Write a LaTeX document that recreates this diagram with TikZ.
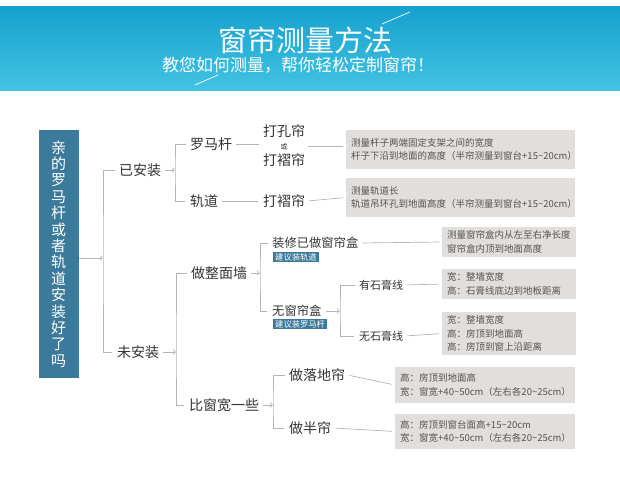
\documentclass[tikz,border=0pt]{standalone}
\usepackage{fontspec}
\setmainfont{Noto Sans CJK SC}
\usetikzlibrary{arrows.meta,positioning,calc}
\definecolor{qblue}{HTML}{3B7A9B}
\definecolor{bannertop}{HTML}{16A1CE}
\definecolor{bannerbot}{HTML}{42C3E3}
\definecolor{notegray}{HTML}{E2DEDB}
\definecolor{linegray}{HTML}{B4B4B4}
\definecolor{txt}{HTML}{333333}
\definecolor{notetxt}{HTML}{555555}
\newcommand{\tl}{\textasciitilde}

\begin{document}
\begin{tikzpicture}[x=1pt,y=-1pt,
    every node/.style={font=\fontsize{14}{16}\selectfont, text=txt, inner sep=2pt},
    lbl/.style={anchor=west},
    small/.style={anchor=west, font=\fontsize{11}{13}\selectfont},
    qbox/.style={fill=qblue, text=white, minimum width=40, minimum height=248, align=center, font=\fontsize{15}{16.4}\selectfont},
    note/.style={fill=notegray, anchor=west, align=left, text=notetxt, text width=#1, inner xsep=5pt, inner ysep=0pt, font=\fontsize{9.5}{13.5}\selectfont},
    tag/.style={fill=qblue, text=white, anchor=north west, inner xsep=2pt, inner ysep=1pt, font=\fontsize{8.3}{9}\selectfont},
    ln/.style={draw=linegray, line width=0.7pt, shorten <=2pt, shorten >=3pt},
    arr/.style={draw=linegray, line width=0.7pt, shorten <=2pt, -{Straight Barb[length=2.5pt,width=4.5pt]}}
  ]
  \useasboundingbox (0,0) rectangle (620,486);

  % banner
  \shade[top color=bannertop, bottom color=bannerbot] (0,7) rectangle (620,91);
  \draw[white, line width=0.7pt] (382,24) -- (410,12);
  \draw[white, line width=0.7pt] (195,85) -- (218,75);
  \node[text=white, font=\fontsize{29}{30}\selectfont] (title) at (305,40) {窗帘测量方法};
  \node[text=white, font=\fontsize{17}{18}\selectfont] (subtitle) at (298,65) {教您如何测量，帮你轻松定制窗帘！};

  % question
  \node[qbox] (q) at (58.5,254) {亲\\的\\罗\\马\\杆\\或\\者\\轨\\道\\安\\装\\好\\了\\吗};

  % bracket points
  \coordinate (b1) at (103,258);
  \coordinate (b2) at (175,170);
  \coordinate (b3) at (176,352);
  \coordinate (b4) at (260,273);
  \coordinate (b5) at (340,311);
  \coordinate (b6) at (273,405);

  % first level
  \node[lbl] (yaz) at (117,170) {已安装};
  \node[lbl] (waz) at (115,352) {未安装};
  \draw[arr, shorten <=0pt] (q.east |- b1) -- (b1);
  \draw[ln] (yaz.west) -| (b1) |- (waz.west);

  % installed
  \node[lbl] (lmg) at (188,144) {罗马杆};
  \node[lbl] (gd) at (188,201) {轨道};
  \draw[arr] (yaz.east) -- (b2);
  \draw[ln] (lmg.west) -| (b2) |- (gd.west);
  \node[align=center, inner sep=1pt] (dkl) at (284,146) {打孔帘\\[-3pt]{\fontsize{7}{8}\selectfont 或}\\[0pt]打褶帘};
  \node (dzl) at (284,201) {打褶帘};
  \node[note=219, minimum height=39] (n1) at (346,149.5) {测量杆子两端固定支架之间的宽度\\杆子下沿到地面的高度（半帘测量到窗台+15\tl20cm）};
  \node[note=219, minimum height=39] (n2) at (346,197.5) {测量轨道长\\轨道吊环孔到地面高度（半帘测量到窗台+15\tl20cm）};
  \draw[ln] (lmg.east) -- (lmg.east -| dkl.west);
  \draw[ln] (dkl.east) -- (dkl.east -| n1.west);
  \draw[ln] (gd.east) -- (dzl.west);
  \draw[ln] (dzl.east) -- (n2.west);

  % not installed
  \node[lbl] (zzm) at (189,273) {做整面墙};
  \node[lbl] (bck) at (187,405) {比窗宽一些};
  \draw[arr] (waz.east) -- (b3);
  \draw[ln] (zzm.west) -| (b3) |- (bck.west);

  % whole wall
  \node[lbl, font=\fontsize{12.3}{14}\selectfont] (zxy) at (270,243) {装修已做窗帘盒};
  \node[tag] (tag1) at (273,252) {建议装轨道};
  \node[lbl, font=\fontsize{12.3}{14}\selectfont] (wcl) at (270,311) {无窗帘盒};
  \node[tag] (tag2) at (273,319) {建议装罗马杆};
  \draw[arr] (zzm.east) -- (b4);
  \draw[ln] (zxy.west) -| (b4) |- (wcl.west);
  \node[note=124, minimum height=30] (n3) at (442,242) {测量窗帘盒内从左至右净长度\\窗帘盒内顶到地面高度};
  \draw[ln] (zxy.east) -- (n3.west);

  \node[small] (ysg) at (357,285) {有石膏线};
  \node[small] (wsg) at (357,336) {无石膏线};
  \draw[arr] (wcl.east) -- (b5);
  \draw[ln] (ysg.west) -| (b5) |- (wsg.west);
  \node[note=124, minimum height=30] (n4) at (442,284) {宽：整墙宽度\\高：石膏线底边到地板距离};
  \node[note=124, minimum height=43] (n5) at (442,333.5) {宽：整墙宽度\\高：房顶到地面高\\高：房顶到窗上沿距离};
  \draw[ln] (ysg.east) -- (n4.west);
  \draw[ln] (wsg.east) -- (n5.west);

  % wider than window
  \node[lbl] (ldl) at (287,375) {做落地帘};
  \node[lbl] (bl) at (287,428) {做半帘};
  \draw[arr] (bck.east) -- (b6);
  \draw[ln] (ldl.west) -| (b6) |- (bl.west);
  \node[note=170, minimum height=36] (n6) at (395,385) {高：房顶到地面高\\宽：窗宽+40\tl50cm（左右各20\tl25cm）};
  \node[note=170, minimum height=35] (n7) at (395,431.5) {高：房顶到窗台面高+15\tl20cm\\宽：窗宽+40\tl50cm（左右各20\tl25cm）};
  \draw[ln] (ldl.east) -- (n6.west);
  \draw[ln] (bl.east) -- (n7.west);
\end{tikzpicture}
\end{document}
